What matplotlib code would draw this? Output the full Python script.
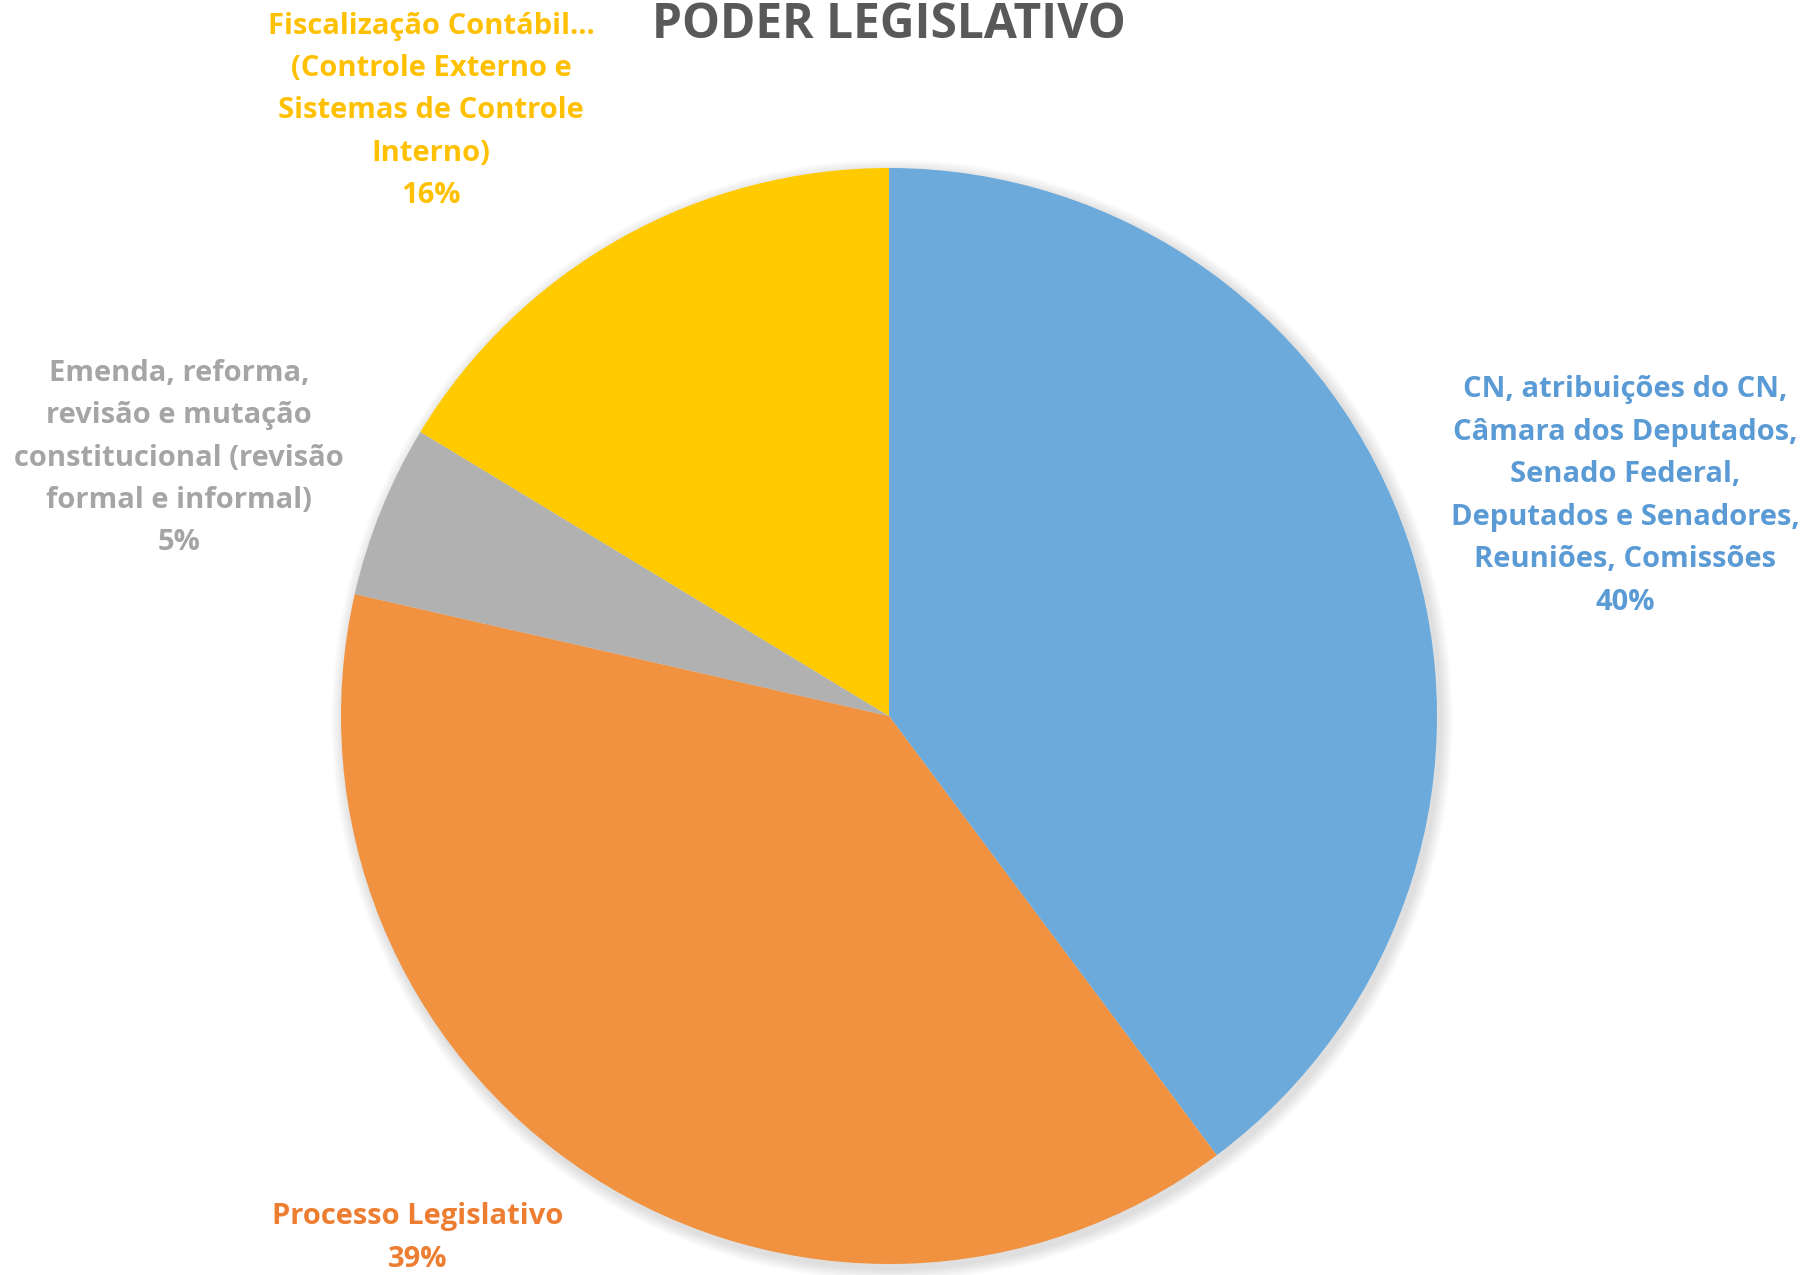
import matplotlib.pyplot as plt
from matplotlib.patches import Circle

# dados do gráfico
categorias = ['CN, atribuições do CN,\nCâmara dos Deputados,\nSenado Federal,\nDeputados e Senadores,\nReuniões, Comissões',
              'Processo Legislativo',
              'Emenda, reforma,\nrevisão e mutação\nconstitucional (revisão\nformal e informal)',
              'Fiscalização Contábil...\n(Controle Externo e\nSistemas de Controle\nInterno)']
valores = [78, 76, 10, 32]
cores = ['#6CAADB', '#F09240', '#B1B1B1', '#FFCA00']
cores_texto = ['#5B9BD5', '#ED7D31', '#A5A5A5', '#FFC000']
titulo = 'PODER LEGISLATIVO'

plt.rcParams['font.family'] = ['Open Sans', 'DejaVu Sans']

W, H = 1810, 1275
fig = plt.figure(figsize=(W / 100, H / 100), dpi=100)
ax = fig.add_axes([0, 0, 1, 1])

cx, cy, r = 889, H - 716, 548

# sombra suave
for i in range(8):
    ax.add_patch(Circle((cx + 3, cy - 4), r + 2 + i * 1.5, color='black',
                        alpha=0.016, lw=0, zorder=0))

ax.pie(valores, colors=cores, startangle=90, counterclock=False,
       center=(cx, cy), radius=r, frame=True,
       wedgeprops=dict(linewidth=0, zorder=1))
ax.set_xlim(0, W)
ax.set_ylim(0, H)
ax.set_aspect('equal')
ax.axis('off')

# posições dos rótulos (px a partir do topo)
pos_rotulos = [(1625, 496), (418, 1238), (179, 458), (431, 111)]
total = sum(valores)
for cat, v, cor, (x, y) in zip(categorias, valores, cores_texto, pos_rotulos):
    ax.text(x, H - y, '%s\n%d%%' % (cat, round(v / total * 100)),
            ha='center', va='center', color=cor, fontsize=21,
            fontweight='bold', linespacing=1.61)

ax.text(889, H - 38, titulo, ha='center', va='baseline', color='#595959',
        fontsize=34.5, fontweight='bold')

fig.savefig('out.png', dpi=100)
